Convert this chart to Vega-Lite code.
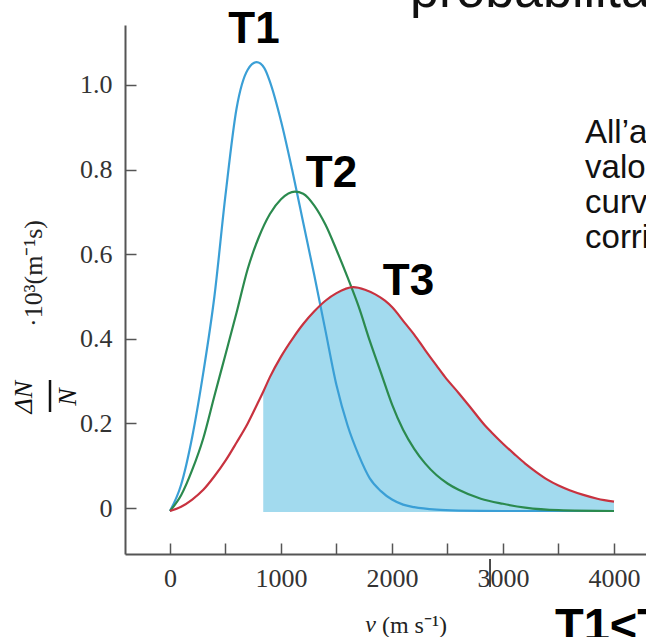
{
  "$schema": "https://vega.github.io/schema/vega-lite/v6.json",
  "width": 521,
  "height": 529,
  "autosize": {"type": "none"},
  "padding": {"left": 125, "top": 25, "right": 0, "bottom": 83},
  "background": "white",
  "config": {"view": {"stroke": null}},
  "datasets": {
    "curves": [
      {"curve": "T1", "v": 0, "y": -0.007}, {"curve": "T1", "v": 100, "y": 0.055}, {"curve": "T1", "v": 200, "y": 0.168}, {"curve": "T1", "v": 300, "y": 0.32}, {"curve": "T1", "v": 400, "y": 0.5}, {"curve": "T1", "v": 500, "y": 0.74}, {"curve": "T1", "v": 600, "y": 0.945}, {"curve": "T1", "v": 700, "y": 1.036}, {"curve": "T1", "v": 780, "y": 1.054}, {"curve": "T1", "v": 850, "y": 1.04}, {"curve": "T1", "v": 900, "y": 1.008}, {"curve": "T1", "v": 1000, "y": 0.915}, {"curve": "T1", "v": 1100, "y": 0.8}, {"curve": "T1", "v": 1200, "y": 0.675}, {"curve": "T1", "v": 1300, "y": 0.55}, {"curve": "T1", "v": 1400, "y": 0.42}, {"curve": "T1", "v": 1500, "y": 0.29}, {"curve": "T1", "v": 1600, "y": 0.195}, {"curve": "T1", "v": 1700, "y": 0.125}, {"curve": "T1", "v": 1800, "y": 0.07}, {"curve": "T1", "v": 1900, "y": 0.04}, {"curve": "T1", "v": 2000, "y": 0.02}, {"curve": "T1", "v": 2100, "y": 0.008}, {"curve": "T1", "v": 2200, "y": 0.002}, {"curve": "T1", "v": 2400, "y": -0.004}, {"curve": "T1", "v": 2600, "y": -0.006}, {"curve": "T1", "v": 3000, "y": -0.007}, {"curve": "T1", "v": 4000, "y": -0.007},
      {"curve": "T2", "v": 0, "y": -0.007}, {"curve": "T2", "v": 100, "y": 0.03}, {"curve": "T2", "v": 200, "y": 0.09}, {"curve": "T2", "v": 300, "y": 0.165}, {"curve": "T2", "v": 400, "y": 0.265}, {"curve": "T2", "v": 500, "y": 0.363}, {"curve": "T2", "v": 600, "y": 0.462}, {"curve": "T2", "v": 700, "y": 0.565}, {"curve": "T2", "v": 800, "y": 0.64}, {"curve": "T2", "v": 900, "y": 0.695}, {"curve": "T2", "v": 1000, "y": 0.73}, {"curve": "T2", "v": 1126, "y": 0.748}, {"curve": "T2", "v": 1200, "y": 0.743}, {"curve": "T2", "v": 1300, "y": 0.715}, {"curve": "T2", "v": 1400, "y": 0.67}, {"curve": "T2", "v": 1500, "y": 0.61}, {"curve": "T2", "v": 1600, "y": 0.545}, {"curve": "T2", "v": 1700, "y": 0.476}, {"curve": "T2", "v": 1800, "y": 0.395}, {"curve": "T2", "v": 1900, "y": 0.32}, {"curve": "T2", "v": 2000, "y": 0.245}, {"curve": "T2", "v": 2100, "y": 0.185}, {"curve": "T2", "v": 2200, "y": 0.14}, {"curve": "T2", "v": 2300, "y": 0.105}, {"curve": "T2", "v": 2400, "y": 0.078}, {"curve": "T2", "v": 2500, "y": 0.058}, {"curve": "T2", "v": 2600, "y": 0.043}, {"curve": "T2", "v": 2800, "y": 0.022}, {"curve": "T2", "v": 3000, "y": 0.01}, {"curve": "T2", "v": 3200, "y": 0.001}, {"curve": "T2", "v": 3500, "y": -0.005}, {"curve": "T2", "v": 4000, "y": -0.007},
      {"curve": "T3", "v": 0, "y": -0.007}, {"curve": "T3", "v": 100, "y": 0.003}, {"curve": "T3", "v": 200, "y": 0.02}, {"curve": "T3", "v": 300, "y": 0.043}, {"curve": "T3", "v": 400, "y": 0.075}, {"curve": "T3", "v": 500, "y": 0.112}, {"curve": "T3", "v": 600, "y": 0.155}, {"curve": "T3", "v": 700, "y": 0.2}, {"curve": "T3", "v": 781, "y": 0.243}, {"curve": "T3", "v": 840, "y": 0.275}, {"curve": "T3", "v": 901, "y": 0.31}, {"curve": "T3", "v": 1000, "y": 0.358}, {"curve": "T3", "v": 1111, "y": 0.403}, {"curve": "T3", "v": 1200, "y": 0.435}, {"curve": "T3", "v": 1300, "y": 0.465}, {"curve": "T3", "v": 1400, "y": 0.49}, {"curve": "T3", "v": 1500, "y": 0.508}, {"curve": "T3", "v": 1651, "y": 0.522}, {"curve": "T3", "v": 1757, "y": 0.516}, {"curve": "T3", "v": 1850, "y": 0.505}, {"curve": "T3", "v": 1937, "y": 0.49}, {"curve": "T3", "v": 2000, "y": 0.475}, {"curve": "T3", "v": 2117, "y": 0.437}, {"curve": "T3", "v": 2200, "y": 0.41}, {"curve": "T3", "v": 2297, "y": 0.374}, {"curve": "T3", "v": 2400, "y": 0.337}, {"curve": "T3", "v": 2477, "y": 0.31}, {"curve": "T3", "v": 2600, "y": 0.272}, {"curve": "T3", "v": 2700, "y": 0.24}, {"curve": "T3", "v": 2838, "y": 0.195}, {"curve": "T3", "v": 2900, "y": 0.178}, {"curve": "T3", "v": 3000, "y": 0.152}, {"curve": "T3", "v": 3100, "y": 0.128}, {"curve": "T3", "v": 3200, "y": 0.105}, {"curve": "T3", "v": 3300, "y": 0.085}, {"curve": "T3", "v": 3400, "y": 0.067}, {"curve": "T3", "v": 3500, "y": 0.053}, {"curve": "T3", "v": 3600, "y": 0.042}, {"curve": "T3", "v": 3724, "y": 0.031}, {"curve": "T3", "v": 3850, "y": 0.022}, {"curve": "T3", "v": 4000, "y": 0.015}
    ],
    "shade": [
      {"v": 840, "y": 0.275}, {"v": 901, "y": 0.31}, {"v": 1000, "y": 0.358}, {"v": 1111, "y": 0.403}, {"v": 1200, "y": 0.435}, {"v": 1300, "y": 0.465}, {"v": 1400, "y": 0.49}, {"v": 1500, "y": 0.508}, {"v": 1651, "y": 0.522}, {"v": 1757, "y": 0.516}, {"v": 1850, "y": 0.505}, {"v": 1937, "y": 0.49}, {"v": 2000, "y": 0.475}, {"v": 2117, "y": 0.437}, {"v": 2200, "y": 0.41}, {"v": 2297, "y": 0.374}, {"v": 2400, "y": 0.337}, {"v": 2477, "y": 0.31}, {"v": 2600, "y": 0.272}, {"v": 2700, "y": 0.24}, {"v": 2838, "y": 0.195}, {"v": 2900, "y": 0.178}, {"v": 3000, "y": 0.152}, {"v": 3100, "y": 0.128}, {"v": 3200, "y": 0.105}, {"v": 3300, "y": 0.085}, {"v": 3400, "y": 0.067}, {"v": 3500, "y": 0.053}, {"v": 3600, "y": 0.042}, {"v": 3724, "y": 0.031}, {"v": 3850, "y": 0.022}, {"v": 4000, "y": 0.015}
    ],
    "tlabels": [
      {"text": "T1", "v": 757, "y": 1.099},
      {"text": "T2", "v": 1455, "y": 0.759},
      {"text": "T3", "v": 2149, "y": 0.5035}
    ],
    "bottomnote": [
      {"text": "T1<T2<T3", "v": 3468, "y": -0.3144}
    ],
    "sidetext": [
      {"text": "All’aumentare della\nvalori più alti\ncurva si allarga\ncorrisponde", "v": 3739, "y": 0.863}
    ],
    "toptext": [
      {"text": "probabilità", "v": 2162, "y": 1.184}
    ],
    "fraction": [
      {"text": "ΔN", "v": -1315, "y": 0.262},
      {"text": "N", "v": -919, "y": 0.262}
    ],
    "vsymbol": [
      {"text": "v", "v": 1806, "y": -0.2766}
    ],
    "fracbar": [
      {"v": -1081, "y": 0.3026, "y2": 0.227}
    ],
    "cursor": [
      {"v": 2883, "y": -0.1206, "y2": -0.1868}
    ]
  },
  "encoding": {
    "x": {
      "field": "v", "type": "quantitative",
      "scale": {"domain": [-405.4, 4288.3], "nice": false, "zero": false},
      "axis": {
        "values": [0, 500, 1000, 1500, 2000, 2500, 3000, 3500, 4000],
        "labelExpr": "datum.value % 1000 === 0 ? format(datum.value, 'd') : ''",
        "grid": false,
        "domainColor": "#555555", "domainWidth": 2,
        "tickColor": "#555555", "tickWidth": 1.5, "tickSize": -11,
        "labelFont": "Liberation Serif", "labelFontSize": 26, "labelColor": "#333333",
        "labelPadding": 22, "labelFlush": false, "labelOverlap": false,
        "title": "(m s⁻¹)",
        "titleFont": "Liberation Serif", "titleFontSize": 24, "titleFontWeight": "normal", "titleColor": "#222222",
        "titleX": 289, "titleY": 71, "titleAlign": "center", "titleBaseline": "middle"
      }
    },
    "y": {
      "field": "y", "type": "quantitative",
      "scale": {"domain": [-0.1087, 1.1418], "nice": false, "zero": false},
      "axis": {
        "values": [0, 0.2, 0.4, 0.6, 0.8, 1.0],
        "labelExpr": "datum.value === 0 ? '0' : format(datum.value, '.1f')",
        "grid": false,
        "domainColor": "#555555", "domainWidth": 2,
        "tickColor": "#555555", "tickWidth": 1.5, "tickSize": -11,
        "labelFont": "Liberation Serif", "labelFontSize": 26, "labelColor": "#333333",
        "labelPadding": 24, "labelFlush": false, "labelOverlap": false,
        "title": "·10³(m⁻¹s)",
        "titleFont": "Liberation Serif", "titleFontSize": 26, "titleFontWeight": "normal", "titleColor": "#222222",
        "titleAngle": 270, "titleX": -92, "titleY": 248, "titleAlign": "center", "titleBaseline": "middle"
      }
    }
  },
  "layer": [
    {
      "data": {"name": "shade"},
      "mark": {"type": "area", "color": "#a2daee", "interpolate": "monotone", "opacity": 1},
      "encoding": {"y2": {"datum": -0.0095}}
    },
    {
      "data": {"name": "curves"},
      "mark": {"type": "line", "strokeWidth": 2.2, "interpolate": "monotone"},
      "encoding": {
        "color": {"field": "curve", "type": "nominal", "scale": {"domain": ["T1", "T2", "T3"], "range": ["#3a9fd6", "#2b8a4e", "#c8323f"]}, "legend": null}
      }
    },
    {
      "data": {"name": "tlabels"},
      "mark": {"type": "text", "font": "Liberation Sans", "fontWeight": "bold", "fontSize": 44, "align": "center", "baseline": "alphabetic", "color": "#000000"},
      "encoding": {"text": {"field": "text"}}
    },
    {
      "data": {"name": "bottomnote"},
      "mark": {"type": "text", "font": "Liberation Sans", "fontWeight": "bold", "fontSize": 47, "align": "left", "baseline": "alphabetic", "color": "#000000"},
      "encoding": {"text": {"field": "text"}}
    },
    {
      "data": {"name": "sidetext"},
      "mark": {"type": "text", "font": "Liberation Sans", "fontSize": 33, "align": "left", "baseline": "alphabetic", "lineBreak": "\n", "lineHeight": 35, "color": "#111111"},
      "encoding": {"text": {"field": "text"}}
    },
    {
      "data": {"name": "toptext"},
      "mark": {"type": "text", "font": "Liberation Sans", "fontSize": 52, "align": "left", "baseline": "alphabetic", "color": "#111111"},
      "encoding": {"text": {"field": "text"}}
    },
    {
      "data": {"name": "fraction"},
      "mark": {"type": "text", "font": "Liberation Serif", "fontStyle": "italic", "fontSize": 26, "angle": 270, "align": "center", "baseline": "middle", "color": "#111111"},
      "encoding": {"text": {"field": "text"}}
    },
    {
      "data": {"name": "vsymbol"},
      "mark": {"type": "text", "font": "Liberation Serif", "fontStyle": "italic", "fontSize": 24, "align": "center", "baseline": "middle", "color": "#222222"},
      "encoding": {"text": {"field": "text"}}
    },
    {
      "data": {"name": "fracbar"},
      "mark": {"type": "rule", "color": "#111111", "strokeWidth": 2.5},
      "encoding": {"y2": {"field": "y2"}}
    },
    {
      "data": {"name": "cursor"},
      "mark": {"type": "rule", "color": "#111111", "strokeWidth": 1.5},
      "encoding": {"y2": {"field": "y2"}}
    }
  ]
}
